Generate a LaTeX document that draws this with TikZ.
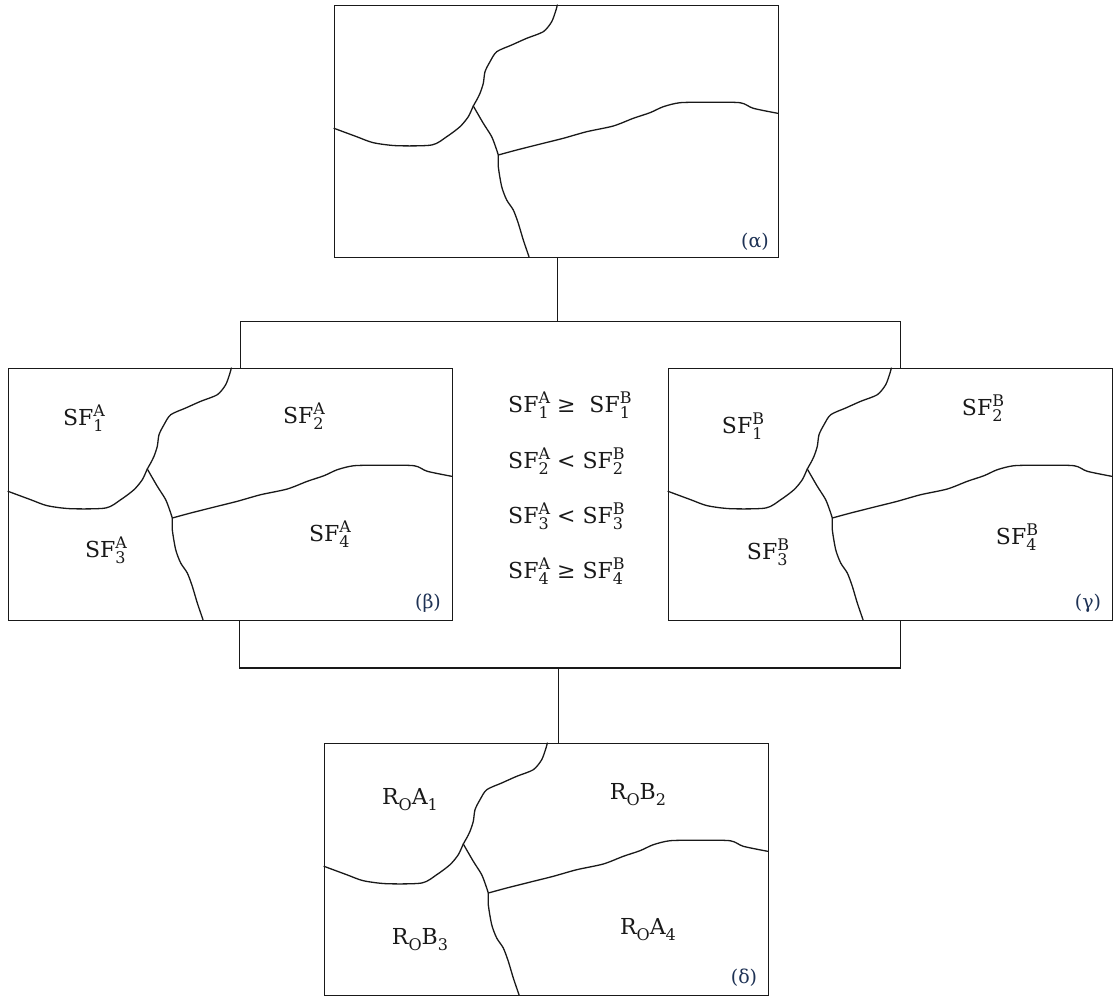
\documentclass[tikz,border=0pt]{standalone}
\usepackage{fontspec}
\setmainfont{DejaVu Serif}
\usetikzlibrary{calc}
\definecolor{ink}{RGB}{25,25,25}
\definecolor{tagblue}{RGB}{30,50,85}

% script size and stacked sub/superscripts for text-mode labels
\newcommand\scr{\fontsize{16}{16}\selectfont}
\newcommand\ixs[2]{\raisebox{-6pt}{\rlap{\scr #1}}\raisebox{9pt}{\scr #2}}
\newcommand\lo[1]{\raisebox{-6pt}{\scr #1}}

\begin{document}
\begin{tikzpicture}[x=1pt,y=-1pt,
  panel/.style={draw=ink, line width=1.2pt, minimum width=444pt, minimum height=252pt,
                anchor=north west, inner sep=0pt},
  link/.style={draw=ink, line width=1.2pt},
  edge/.style={ink, line width=1.3pt, line join=round, line cap=round},
  region/.style={font=\fontsize{22}{22}\selectfont, text=ink},
  tag/.style={font=\fontsize{19}{19}\selectfont, text=tagblue},
  rel/.style={font=\fontsize{22}{22}\selectfont, text=ink, anchor=base west, inner sep=0pt},
  grains/.pic={
    % boundary from the top edge down to the triple junction, then to the left edge
    \draw[edge] plot[smooth, tension=0.45] coordinates {
      (223.3,0) (222,5) (217.7,16.7) (209.3,26.7) (192.7,33.3) (177.7,40) (162.7,46.7)
      (156,56.7) (151,66.7) (149.3,78.3) (146,88.3) (142.7,95) (139.3,101)
      (134.3,111.7) (126,121.7) (112.7,131.7) (97.7,140) (62.7,140.7) (39.3,137.7)
      (22.7,131.7) (0,123.3)};
    % boundary from the junction down to the bottom edge
    \draw[edge] plot[smooth, tension=0.45] coordinates {
      (139.3,101) (149.3,118.3) (157.7,131.7) (162.7,145) (164.3,150) (164.3,161.7)
      (167.7,181.7) (172.7,195) (179.3,205) (184.3,218.3) (189.3,235) (195,251.7)};
    % boundary from the second junction to the right edge
    \draw[edge] plot[smooth, tension=0.45] coordinates {
      (164.3,150) (182.7,145) (209.3,138.3) (229.3,133.3) (252.7,126.7) (279.3,121)
      (299.3,113.3) (316,107.7) (329.3,101.7) (346,97.7) (372.7,97.3) (406,97.7)
      (419.3,103.3) (443.7,108.3)};
  }
]
\useasboundingbox (0,0) rectangle (1113,996);

% four panels
\node[panel] (a) at (334,5) {};
\node[panel] (b) at (8,368) {};
\node[panel] (c) at (668,368) {};
\node[panel] (d) at (324,743) {};

\pic at (a.north west) {grains};
\pic at (b.north west) {grains};
\pic at (c.north west) {grains};
\pic at (d.north west) {grains};

% panel tags
\node[tag] (ta) at ($(a.north west)+(421,237)$) {(α)};
\node[tag] (tb) at ($(b.north west)+(420,235)$) {(β)};
\node[tag] (tc) at ($(c.north west)+(420,235)$) {(γ)};
\node[tag] (td) at ($(d.north west)+(420,235)$) {(δ)};

% region labels, panel β
\node[region] (b1) at ($(b.north west)+(76,50)$) {SF\ixs{1}{A}};
\node[region] (b2) at ($(b.north west)+(296,48)$) {SF\ixs{2}{A}};
\node[region] (b3) at ($(b.north west)+(98,182)$) {SF\ixs{3}{A}};
\node[region] (b4) at ($(b.north west)+(322,166)$) {SF\ixs{4}{A}};

% region labels, panel γ
\node[region] (c1) at ($(c.north west)+(75,58)$) {SF\ixs{1}{B}};
\node[region] (c2) at ($(c.north west)+(315,40)$) {SF\ixs{2}{B}};
\node[region] (c3) at ($(c.north west)+(100,184)$) {SF\ixs{3}{B}};
\node[region] (c4) at ($(c.north west)+(349,169)$) {SF\ixs{4}{B}};

% region labels, panel δ
\node[region] (d1) at ($(d.north west)+(86,57)$) {R\lo{O}A\lo{1}};
\node[region] (d2) at ($(d.north west)+(314,52)$) {R\lo{O}B\lo{2}};
\node[region] (d3) at ($(d.north west)+(96,197)$) {R\lo{O}B\lo{3}};
\node[region] (d4) at ($(d.north west)+(324,187)$) {R\lo{O}A\lo{4}};

% comparison list
\node[rel] (r1) at (508,412) {SF\ixs{1}{A} ≥ \ SF\ixs{1}{B}};
\node[rel] (r2) at (508,468) {SF\ixs{2}{A} < SF\ixs{2}{B}};
\node[rel] (r3) at (508,523) {SF\ixs{3}{A} < SF\ixs{3}{B}};
\node[rel] (r4) at (508,578) {SF\ixs{4}{A} ≥ SF\ixs{4}{B}};

% connectors
\coordinate (at) at ([xshift=1pt]a.south);
\coordinate (bt) at ([xshift=10pt]b.north);
\coordinate (ct) at ([xshift=10pt]c.north);
\coordinate (bb) at ([xshift=9pt]b.south);
\coordinate (cb) at ([xshift=10pt]c.south);
\coordinate (dt) at ([xshift=12pt]d.north);

\draw[link] (at) -- ++(0,63) coordinate (hub1);
\draw[link] (bt) |- (hub1) -| (ct);
\draw[link] (dt) -- ++(0,-75) coordinate (hub2);
\draw[link] (bb) |- (hub2) -| (cb);
\end{tikzpicture}
\end{document}
